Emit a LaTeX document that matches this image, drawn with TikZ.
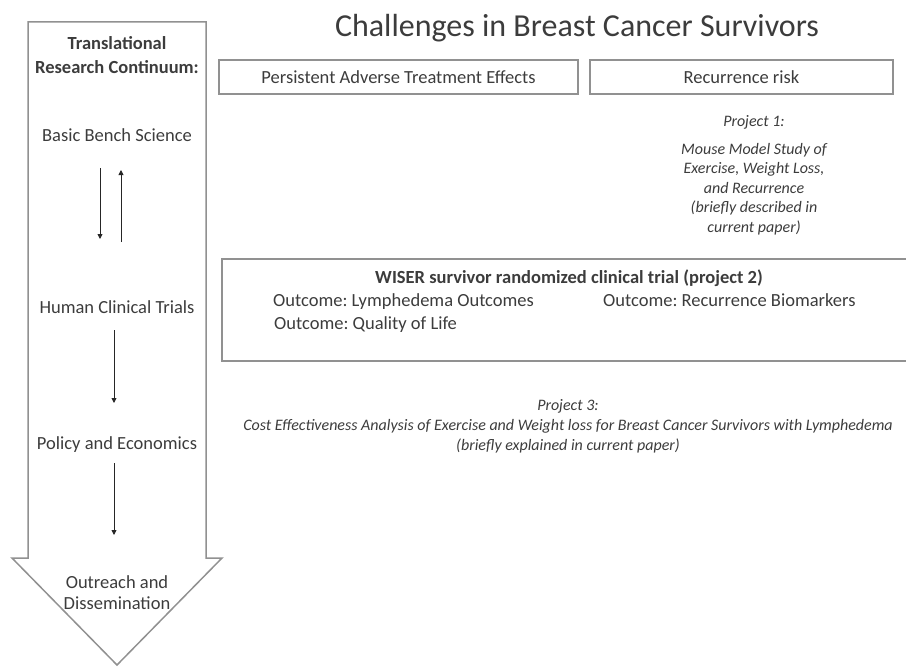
\documentclass[tikz,border=0pt]{standalone}
\usepackage{fontspec}
\setmainfont{Carlito}
\usetikzlibrary{arrows.meta, positioning}
\usepackage{xcolor}
\definecolor{textgray}{RGB}{60,60,60}
\definecolor{linegray}{RGB}{145,145,145}
\frenchspacing

\begin{document}
\begin{tikzpicture}[
                x=1pt, y=-1pt,
                line join=miter,
                outline/.style={draw=linegray, line width=1.5pt},
                stagelabel/.style={text=textgray, font=\fontsize{18.5}{21}\selectfont, align=center, inner sep=0pt},
                stagehead/.style={stagelabel, font=\bfseries\fontsize{18.5}{24}\selectfont},
                stagearrow/.style={draw=black!85, line width=0.9pt, -{Triangle[width=5pt, length=5pt]}},
                challengebox/.style={outline, text=textgray, font=\fontsize{18.5}{21}\selectfont, minimum height=34pt, inner sep=0pt},
                outcome/.style={text=textgray, font=\fontsize{18.5}{21}\selectfont, inner sep=0pt, anchor=base west},
                projecttext/.style={text=textgray, font=\itshape\fontsize{16}{19.5}\selectfont, align=center, inner sep=0pt}
                ]
                \useasboundingbox (0,0) rectangle (906,669);

                %% Continuum arrow
                \draw[outline] (28,22) -- (206,22) -- (206,558) -- (222,558) -- (117,665) -- (12,558) -- (28,558) -- cycle;

                %% Stages
                \node[stagehead] (continuum) at (117,55) {Translational\\Research Continuum:};
                \node[stagelabel] (bench) at (117,135) {Basic Bench Science};
                \node[stagelabel] (trials) at (117,307) {Human Clinical Trials};
                \node[stagelabel] (policy) at (117,445) {Policy and Economics};
                \node[stagelabel] (outreach) at (117,593) {Outreach and\\Dissemination};

                % arrow ends
                \coordinate (bench-down) at (100,168);
                \coordinate (trials-up) at (100,239);
                \coordinate (trials-back) at (121,242);
                \coordinate (bench-back) at (121,170);
                \coordinate (trials-out) at (114,330);
                \coordinate (policy-in) at (114,403);
                \coordinate (policy-out) at (114,463);
                \coordinate (outreach-in) at (114,535);

                \draw[stagearrow] (bench-down) -- (trials-up);
                \draw[stagearrow] (trials-back) -- (bench-back);
                \draw[stagearrow] (trials-out) -- (policy-in);
                \draw[stagearrow] (policy-out) -- (outreach-in);

                %% Title and challenges
                \node[text=textgray, font=\fontsize{32}{36}\selectfont, inner sep=0pt] (title) at (577,28) {Challenges in Breast Cancer Survivors};
                \node[challengebox, minimum width=359pt] (adverse) at (398.5,77) {Persistent Adverse Treatment Effects};
                \node[challengebox, minimum width=303pt] (recurrence) at (741.5,77) {Recurrence risk};

                %% Project 1
                \node[projecttext] (project1) at (754,122) {Project 1:};
                \node[projecttext] (mouse) at (754,189) {Mouse Model Study of\\Exercise, Weight Loss,\\and Recurrence\\(briefly described in\\current paper)};

                %% Project 2
                \draw[outline] (222,259) rectangle (912,361);
                \node[text=textgray, font=\bfseries\fontsize{18.5}{21}\selectfont, inner sep=0pt] (wiser) at (569,278) {WISER survivor randomized clinical trial (project 2)};
                \node[outcome] (lymph) at (273,306) {Outcome: Lymphedema Outcomes};
                \node[outcome] (biomarkers) at (603,306) {Outcome: Recurrence Biomarkers};
                \node[outcome] (quality) at (274,329) {Outcome: Quality of Life};

                %% Project 3
                \node[projecttext, font=\itshape\fontsize{16}{20}\selectfont] (project3) at (568,426) {Project 3:\\Cost Effectiveness Analysis of Exercise and Weight loss for Breast Cancer Survivors with Lymphedema\\(briefly explained in current paper)};
\end{tikzpicture}
\end{document}
